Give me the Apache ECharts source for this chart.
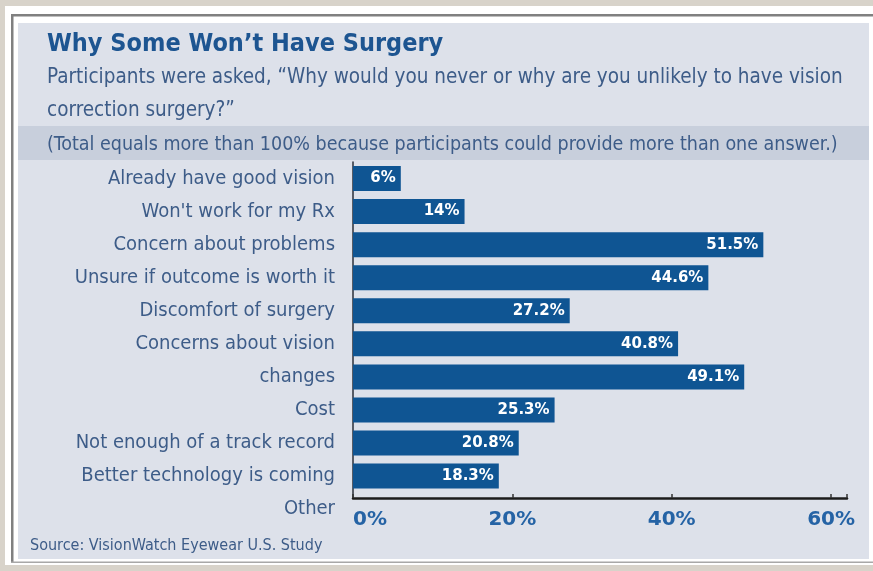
<!DOCTYPE html>
<html>
<head>
<meta charset="utf-8">
<script src="https://cdn.jsdelivr.net/npm/echarts@6/dist/echarts.min.js"></script>
<style>
html,body{margin:0;padding:0;background:#ffffff;}
#chart{width:873px;height:571px;}
</style>
</head>
<body>
<div id="chart"></div>
<script>
// ---- data ----
const categories = [
  'Already have good vision',
  "Won't work for my Rx",
  'Concern about problems',
  'Unsure if outcome is worth it',
  'Discomfort of surgery',
  'Concerns about vision',
  'changes',
  'Cost',
  'Not enough of a track record',
  'Better technology is coming',
  'Other'
];
const values = [6, 14, 51.5, 44.6, 27.2, 40.8, 49.1, 25.3, 20.8, 18.3, null];
const xTickValues = [0, 20, 40, 60];
const xAxisMax = 62;

const titleText = 'Why Some Won’t Have Surgery';
const subtitleLine1 = 'Participants were asked, “Why would you never or why are you unlikely to have vision';
const subtitleLine2 = 'correction surgery?”';
const noteText = '(Total equals more than 100% because participants could provide more than one answer.)';
const sourceText = 'Source: VisionWatch Eyewear U.S. Study';

// ---- styles ----
const NARROW = "'DejaVu Sans Condensed', 'Liberation Sans', sans-serif";
const BOLDF = "'DejaVu Sans', 'Liberation Sans', sans-serif";
const textColor = '#3d5c88';
const titleColor = '#1d5591';
const barColor = '#0f5593';
const axisLabelColor = '#2563a5';

const chart = echarts.init(document.getElementById('chart'), null, {renderer: 'canvas'});

const option = {
  backgroundColor: '#ffffff',
  animation: false,
  graphic: [
    // outer decorations
    {type: 'rect', z: -10, shape: {x: 0, y: 0, width: 873, height: 6}, style: {fill: '#d8d3ca'}},
    {type: 'rect', z: -10, shape: {x: 0, y: 0, width: 5, height: 571}, style: {fill: '#d8d3ca'}},
    {type: 'rect', z: -10, shape: {x: 0, y: 565, width: 873, height: 6}, style: {fill: '#d8d3ca'}},
    {type: 'rect', z: -10, shape: {x: 11, y: 14, width: 862, height: 2.5}, style: {fill: '#808080'}},
    {type: 'rect', z: -10, shape: {x: 11, y: 14, width: 2.5, height: 549}, style: {fill: '#808080'}},
    {type: 'rect', z: -10, shape: {x: 11, y: 561.5, width: 862, height: 1.5}, style: {fill: '#a8a8a8'}},
    // panel
    {type: 'rect', z: -9, shape: {x: 18, y: 23, width: 851, height: 536}, style: {fill: '#dde1ea'}},
    {type: 'rect', z: -8, shape: {x: 18, y: 126, width: 851, height: 34}, style: {fill: '#c8cfdc'}},
    // texts
    {type: 'text', z: 5, style: {text: titleText, x: 47, y: 44, align: 'left', verticalAlign: 'middle', fill: titleColor, font: "bold 25px " + NARROW}},
    {type: 'text', z: 5, style: {text: subtitleLine1, x: 47, y: 78, align: 'left', verticalAlign: 'middle', fill: textColor, font: "20.5px " + NARROW}},
    {type: 'text', z: 5, style: {text: subtitleLine2, x: 47, y: 111, align: 'left', verticalAlign: 'middle', fill: textColor, font: "20.5px " + NARROW}},
    {type: 'text', z: 5, style: {text: noteText, x: 47, y: 145, align: 'left', verticalAlign: 'middle', fill: textColor, font: "19.5px " + NARROW}},
    {type: 'text', z: 5, style: {text: sourceText, x: 30, y: 546, align: 'left', verticalAlign: 'middle', fill: textColor, font: "16px " + NARROW}}
  ],
  grid: [
    {left: 353, right: 26, top: 162, height: 336},
    {left: 353, right: 26, top: 162, height: 363.7}
  ],
  xAxis: [
    {
      gridIndex: 0, type: 'value', min: xTickValues[0], max: xAxisMax, interval: 20,
      axisLine: {show: true, lineStyle: {color: '#1c1c1c', width: 2.5}},
      axisTick: {show: true, inside: true, length: 4, lineStyle: {color: '#333', width: 1.5}},
      splitLine: {show: false},
      axisLabel: {
        formatter: function (v) { return xTickValues.indexOf(v) >= 0 ? v + '%' : ''; },
        color: axisLabelColor, fontFamily: BOLDF, fontWeight: 'bold', fontSize: 20,
        margin: 12, alignMinLabel: 'left', showMaxLabel: true
      }
    },
    {gridIndex: 1, type: 'value', min: 0, max: xAxisMax, show: false}
  ],
  yAxis: [
    {
      gridIndex: 0, type: 'value', min: 0, max: 1,
      axisLine: {show: true, lineStyle: {color: '#2a2f3a', width: 1.5}},
      axisTick: {show: false}, axisLabel: {show: false}, splitLine: {show: false}
    },
    {
      gridIndex: 1, type: 'category', data: categories, inverse: true,
      axisLine: {show: false}, axisTick: {show: false}, splitLine: {show: false},
      axisLabel: {color: textColor, fontFamily: NARROW, fontSize: 20, margin: 18}
    }
  ],
  series: [
    {
      type: 'bar', xAxisIndex: 1, yAxisIndex: 1, data: values, barWidth: 25,
      itemStyle: {color: barColor},
      label: {
        show: true, position: 'insideRight', distance: 5, formatter: '{c}%',
        color: '#ffffff', fontFamily: BOLDF, fontWeight: 'bold', fontSize: 15
      }
    }
  ]
};
chart.setOption(option);
</script>
</body>
</html>
